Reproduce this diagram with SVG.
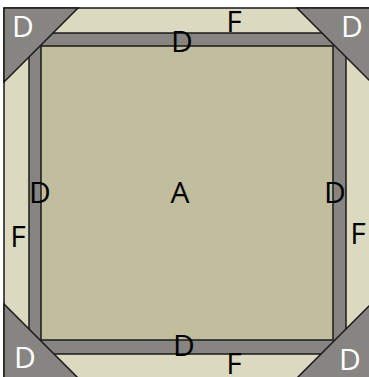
<svg xmlns="http://www.w3.org/2000/svg" width="369" height="377" viewBox="0 0 369 377">
<style>
.ln{stroke:#1a1a1a;stroke-width:1.5;stroke-linejoin:miter}
.f{fill:#dcd9c1}
.d{fill:#868581}
.a{fill:#c1be9d}
text{font-family:"Open Sans","Noto Sans",sans-serif;font-size:30px;text-anchor:middle}
.w{fill:#ffffff}
.k{fill:#000000}
</style>
<rect width="369" height="377" fill="#ffffff"/>
<g id="F">
<rect class="f ln" x="4" y="8" width="367" height="371"/>
</g>
<g id="D-frame">
<rect class="d ln" x="29" y="33" width="317" height="321"/>
</g>
<g id="A">
<rect class="a ln" x="41" y="46" width="292" height="294"/>
</g>
<g id="D-corners">
<polygon class="d ln" points="4,8 78,8 4,82"/>
<polygon class="d ln" points="297,8 371,8 371,82"/>
<polygon class="d ln" points="4,304 4,378 78,378"/>
<polygon class="d ln" points="297,378 371,378 371,304"/>
</g>
<g id="labels">
<text class="k" x="180" y="203">A</text>
<text class="k" x="182" y="52">D</text>
<text class="k" x="184" y="356">D</text>
<text class="k" x="40" y="203">D</text>
<text class="k" x="335" y="203">D</text>
<text class="k" x="234" y="32">F</text>
<text class="k" x="234" y="374">F</text>
<text class="k" x="18" y="247">F</text>
<text class="k" x="358" y="244">F</text>
<text class="w" x="23" y="37">D</text>
<text class="w" x="352" y="37">D</text>
<text class="w" x="25" y="368">D</text>
<text class="w" x="350" y="370">D</text>
</g>
</svg>
